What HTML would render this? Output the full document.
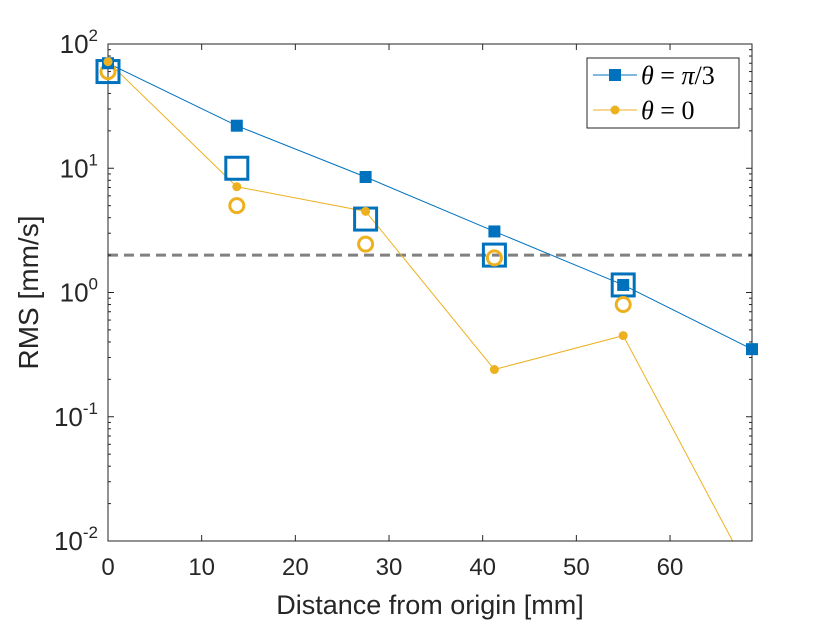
<!DOCTYPE html>
<html><head><meta charset="utf-8"><style>
body{margin:0;background:#fff;}
svg{display:block;font-family:"Liberation Sans",sans-serif;}
</style></head><body>
<svg id="chart" width="830" height="623">
<rect x="0" y="0" width="830" height="623" fill="#fff"/>
<g id="lines"></g>
<g id="axes"></g>
<g id="marks"></g>
<g id="legendg"></g>
</svg>
<script>
const distances = [0, 13.75, 27.5, 41.25, 55, 68.75];
const bluePi3 = [70, 22, 8.5, 3.1, 1.15, 0.35];
const yellowZero = [72, 7.1, 4.5, 0.24, 0.45, 0.0051];
const blueOpen = [60, 10, 3.9, 2.0, 1.15];
const yellowOpen = [60, 5.0, 2.45, 1.9, 0.8];
const threshold = 2;
const xTicks = [0, 10, 20, 30, 40, 50, 60];
const yTickExps = [2, 1, 0, -1, -2];

const L=108,R=752,T=44,B=541;
const xMin=0,xMax=68.75,yMinE=-2,yMaxE=2;
const NS="http://www.w3.org/2000/svg";
function xs(v){return L+(v-xMin)/(xMax-xMin)*(R-L);}
function ys(v){return B-(Math.log10(v)-yMinE)/(yMaxE-yMinE)*(B-T);}
function inRange(v){const l=Math.log10(v);return l>=yMinE&&l<=yMaxE;}
function mk(tag,attrs,parent){const e=document.createElementNS(NS,tag);for(const k in attrs)e.setAttribute(k,attrs[k]);parent.appendChild(e);return e;}
const svg=document.getElementById('chart');
const lines=document.getElementById('lines');
const marks=document.getElementById('marks');
const axes=document.getElementById('axes');
const lgroot=document.getElementById('legendg');
const BLUE="#0072BD",YEL="#EDB120",AX="#262626";

const clip=mk('clipPath',{id:'pc'},svg);
mk('rect',{x:L,y:T,width:R-L,height:B-T},clip);
lines.setAttribute('clip-path','url(#pc)');

const th=mk('line',{x1:L,x2:R,y1:ys(threshold),y2:ys(threshold),stroke:'#808080','stroke-width':3,'stroke-dasharray':'10,6'},lines);



let pb=distances.map((d,i)=>xs(d)+','+ys(bluePi3[i])).join(' ');
const lb=mk('polyline',{points:pb,fill:'none',stroke:BLUE,'stroke-width':1},lines);


let py=distances.map((d,i)=>xs(d)+','+ys(yellowZero[i])).join(' ');
const ly=mk('polyline',{points:py,fill:'none',stroke:YEL,'stroke-width':1},lines);



blueOpen.forEach((v,i)=>{
 if(!inRange(v))return;
 const e=mk('rect',{x:xs(distances[i])-11,y:ys(v)-11,width:22,height:22,fill:'none',stroke:BLUE,'stroke-width':3},marks);
 
 
});
yellowOpen.forEach((v,i)=>{
 if(!inRange(v))return;
 const e=mk('circle',{cx:xs(distances[i]),cy:ys(v),r:7,fill:'none',stroke:YEL,'stroke-width':3},marks);
 
 
});
bluePi3.forEach((v,i)=>{
 if(!inRange(v))return;
 const e=mk('rect',{x:xs(distances[i])-6,y:ys(v)-6,width:12,height:12,fill:BLUE},marks);
 
 
});
yellowZero.forEach((v,i)=>{
 if(!inRange(v))return;
 const e=mk('circle',{cx:xs(distances[i]),cy:ys(v),r:4.5,fill:YEL},marks);
 
 
});

const box=mk('rect',{x:L,y:T,width:R-L,height:B-T,fill:'none',stroke:AX,'stroke-width':1},axes);


xTicks.forEach(t=>{
 const x=xs(t);
 mk('line',{x1:x,x2:x,y1:B,y2:B-6,stroke:AX},axes);
 mk('line',{x1:x,x2:x,y1:T,y2:T+6,stroke:AX},axes);
 const tx=mk('text',{x:x,y:B+34,'text-anchor':'middle','font-size':24,fill:AX},axes);
 tx.textContent=t;
 
 
});
yTickExps.forEach(e=>{
 const y=ys(Math.pow(10,e));
 mk('line',{x1:L,x2:L+6,y1:y,y2:y,stroke:AX},axes);
 mk('line',{x1:R,x2:R-6,y1:y,y2:y,stroke:AX},axes);
 if(e<yMaxE){for(let k=2;k<10;k++){const yy=ys(k*Math.pow(10,e));
  mk('line',{x1:L,x2:L+3,y1:yy,y2:yy,stroke:AX},axes);
  mk('line',{x1:R,x2:R-3,y1:yy,y2:yy,stroke:AX},axes);}}
 const tx=mk('text',{x:L-10,y:y+9,'text-anchor':'end','font-size':26,fill:AX},axes);
 
 
 const a=mk('tspan',{},tx);a.textContent='10';
 const s=mk('tspan',{dy:-12,'font-size':17},tx);s.textContent=String(e);
});
const xl=mk('text',{x:(L+R)/2,y:614,'text-anchor':'middle','font-size':27,fill:AX},axes);
xl.textContent='Distance from origin [mm]';


const yl=mk('text',{x:0,y:0,'text-anchor':'middle','font-size':28,fill:AX,transform:'translate(38,'+((T+B)/2)+') rotate(-90)'},axes);
yl.textContent='RMS [mm/s]';



const lg=mk('g',{},lgroot);


mk('rect',{x:587,y:58,width:152,height:70,fill:'#fff',stroke:AX,'stroke-width':1},lg);
mk('line',{x1:593,x2:637,y1:75,y2:75,stroke:BLUE},lg);
mk('rect',{x:609,y:69,width:12,height:12,fill:BLUE},lg);
const t1=mk('text',{x:641,y:84,'font-size':26,'font-family':'Liberation Serif,serif',fill:'#000'},lg);
t1.innerHTML='<tspan font-style="italic">θ</tspan> = <tspan font-style="italic">π</tspan>/3';


mk('line',{x1:593,x2:637,y1:110,y2:110,stroke:YEL},lg);
mk('circle',{cx:615,cy:110,r:4.5,fill:YEL},lg);
const t2=mk('text',{x:641,y:119,'font-size':26,'font-family':'Liberation Serif,serif',fill:'#000'},lg);
t2.innerHTML='<tspan font-style="italic">θ</tspan> = 0';


</script>
</body></html>
